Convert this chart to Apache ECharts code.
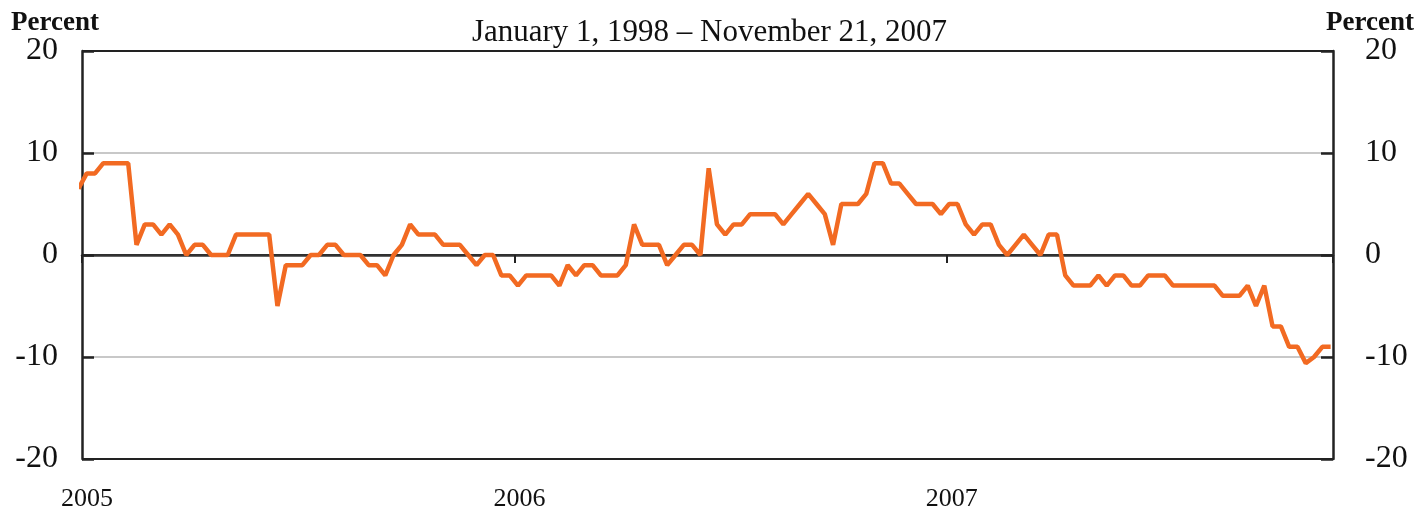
<!DOCTYPE html>
<html>
<head>
<meta charset="utf-8">
<script src="https://cdn.jsdelivr.net/npm/echarts@6/dist/echarts.min.js"></script>
<style>
    html, body {margin: 0; padding: 0; background: #fff;}
    #chart {width: 1419px; height: 512px;}
</style>
</head>
<body>
<div id="chart"></div>
<script>
// weekly readings (Wednesdays), first one is 2004-12-29, last one 2007-11-21
var firstWeek = '2004-12-29';
var weekly = [
    6.5, 8, 8, 9, 9, 9, 9, 1, 3, 3,
    2, 3, 2, 0, 1, 1, 0, 0, 0, 2,
    2, 2, 2, 2, -5, -1, -1, -1, 0, 0,
    1, 1, 0, 0, 0, -1, -1, -2, 0, 1,
    3, 2, 2, 2, 1, 1, 1, 0, -1, 0,
    0, -2, -2, -3, -2, -2, -2, -2, -3, -1,
    -2, -1, -1, -2, -2, -2, -1, 3, 1, 1,
    1, -1, 0, 1, 1, 0, 8.5, 3, 2, 3,
    3, 4, 4, 4, 4, 3, 4, 5, 6, 5,
    4, 1, 5, 5, 5, 6, 9, 9, 7, 7,
    6, 5, 5, 5, 4, 5, 5, 3, 2, 3,
    3, 1, 0, 1, 2, 1, 0, 2, 2, -2,
    -3, -3, -3, -2, -3, -2, -2, -3, -3, -2,
    -2, -2, -3, -3, -3, -3, -3, -3, -4, -4,
    -4, -3, -5, -3, -7, -7, -9, -9, -10.6, -10,
    -9, -9
];
var years = ['2005', '2006', '2007'];
var yTicks = [-20, -10, 0, 10, 20];

var DAY = 86400000;
var origin = Date.parse('2005-01-01');
var start = Date.parse(firstWeek);
// x = days since 1 Jan 2005
var points = weekly.map(function (v, i) {
    return [(start - origin) / DAY + i * 7, v];
});

var serif = '"Liberation Serif", "DejaVu Serif", serif';
var myChart = echarts.init(document.getElementById('chart'));

// split lines: frame at ±20, light grey at ±10, zero drawn by the axis
var splitColors = ['#222', '#c8c8c8', '#222', '#c8c8c8', '#222'];

var option = {
    animation: false,
    title: [
        {
            text: 'January 1, 1998 \u2013 November 21, 2007',
            left: 'center',
            top: 12,
            textStyle: {fontFamily: serif, fontSize: 31, fontWeight: 'normal', color: '#111'}
        },
        {
            text: 'Percent',
            left: 6,
            top: 5,
            textStyle: {fontFamily: serif, fontSize: 27, fontWeight: 'bold', color: '#111'}
        },
        {
            text: 'Percent',
            right: 0,
            top: 5,
            textStyle: {fontFamily: serif, fontSize: 27, fontWeight: 'bold', color: '#111'}
        }
    ],
    grid: {
        left: 82,
        right: 86,
        top: 51,
        bottom: 53,
        show: false
    },
    xAxis: [
        {
            // bottom labels only
            type: 'value',
            min: 0,
            max: 1056,
            interval: 365,
            position: 'bottom',
            axisLine: {show: false, onZero: false},
            axisTick: {show: false},
            splitLine: {show: false},
            axisLabel: {
                margin: 27,
                showMaxLabel: false,
                padding: [0, 0, 0, 10],
                fontFamily: serif,
                fontSize: 26,
                color: '#111',
                formatter: function (v) {
                    var k = Math.round(v / 365);
                    return years[k] || '';
                }
            }
        },
        {
            // zero line with year ticks
            type: 'value',
            min: 0,
            max: 1056,
            interval: 365,
            position: 'top',
            axisLine: {show: true, onZero: true, lineStyle: {color: '#333', width: 2.5}},
            axisTick: {show: true, inside: true, length: 8, lineStyle: {color: '#222', width: 2}},
            axisLabel: {show: false},
            splitLine: {show: false}
        }
    ],
    yAxis: [
        {
            type: 'value',
            min: yTicks[0],
            max: yTicks[yTicks.length - 1],
            interval: 10,
            position: 'left',
            axisLine: {show: true, onZero: false, lineStyle: {color: '#222', width: 2.5}},
            axisTick: {show: true, inside: true, length: 12, lineStyle: {color: '#222', width: 2.5}},
            axisLabel: {margin: 24, fontFamily: serif, fontSize: 32, color: '#111'},
            splitLine: {show: true, lineStyle: {color: splitColors, width: 2}}
        },
        {
            type: 'value',
            min: yTicks[0],
            max: yTicks[yTicks.length - 1],
            interval: 10,
            position: 'right',
            axisLine: {show: true, onZero: false, lineStyle: {color: '#222', width: 2.5}},
            axisTick: {show: true, inside: true, length: 12, lineStyle: {color: '#222', width: 2.5}},
            axisLabel: {margin: 32, fontFamily: serif, fontSize: 32, color: '#111', align: 'left'},
            splitLine: {show: false}
        }
    ],
    series: [
        {
            type: 'line',
            xAxisIndex: 0,
            yAxisIndex: 0,
            data: points,
            symbol: 'none',
            clip: true,
            lineStyle: {color: '#f26a22', width: 4.5},
            z: 5
        }
    ]
};

myChart.setOption(option);
</script>
</body>
</html>
